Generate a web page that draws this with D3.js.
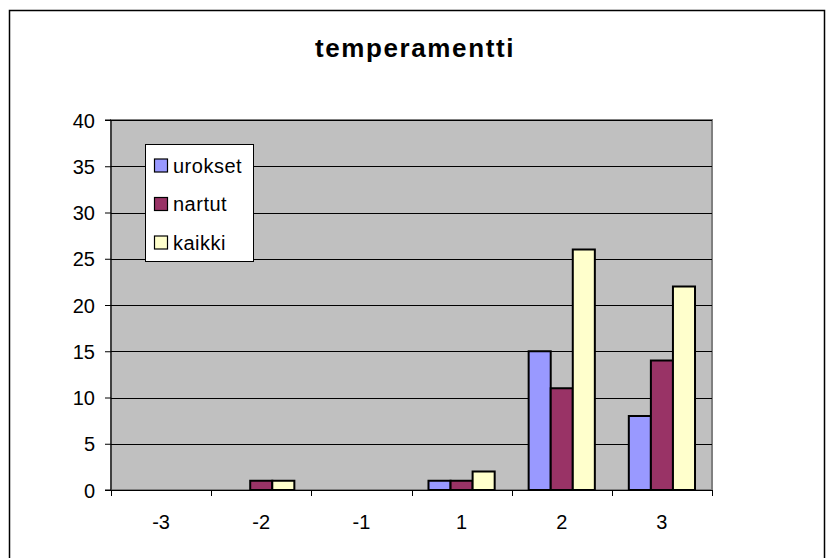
<!DOCTYPE html>
<html>
<head>
<meta charset="utf-8">
<script src="https://cdn.jsdelivr.net/npm/d3@7"></script>
<style>
  body { margin: 0; background: #fff; }
  svg { display: block; font-family: "Liberation Sans", Arial, sans-serif; }
</style>
</head>
<body>
<div id="chart"></div>
<script>
(() => {
    // data
    const categories = ['-3', '-2', '-1', '1', '2', '3'];
    const seriesNames = ['urokset', 'nartut', 'kaikki'];
    const urokset = [0, 0, 0, 1, 15, 8];
    const nartut = [0, 1, 0, 1, 11, 14];
    const kaikki = [0, 1, 0, 2, 26, 22];
    const yTicks = [0, 5, 10, 15, 20, 25, 30, 35, 40];
    const colors = ['#9999ff', '#993366', '#ffffcc'];

    const W = 834, H = 558;
    const plot = {left: 111, top: 120, right: 712, bottom: 490};

    const svg = d3.select('#chart')
        .append('svg')
        .attr('width', W)
        .attr('height', H);

    // outer chart border (bottom edge runs off the picture)
    svg.append('rect')
        .attr('x', 9.5).attr('y', 10.5)
        .attr('width', 815).attr('height', 560)
        .attr('fill', '#fff')
        .attr('stroke', '#000')
        .attr('stroke-width', 1.5);

    svg.append('text')
        .attr('x', 415).attr('y', 57)
        .attr('text-anchor', 'middle')
        .style('font-size', '26px')
        .style('font-weight', 'bold')
        .style('letter-spacing', '1.6px')
        .text('temperamentti');

    const x = d3.scaleBand()
        .domain(categories)
        .range([plot.left, plot.right]);
    const xInner = d3.scaleBand()
        .domain(seriesNames)
        .range([0, x.bandwidth()])
        .paddingOuter(0.77)
        .paddingInner(0);
    const y = d3.scaleLinear()
        .domain([0, 40])
        .range([plot.bottom, plot.top]);

    svg.append('rect')
        .attr('x', plot.left).attr('y', plot.top)
        .attr('width', plot.right - plot.left)
        .attr('height', plot.bottom - plot.top)
        .attr('fill', '#c0c0c0')
        .attr('stroke', '#808080')
        .attr('stroke-width', 2);

    // gridlines
    svg.append('g')
        .selectAll('line')
        .data(yTicks.filter(d => d > 0))
        .enter()
        .append('line')
        .attr('x1', plot.left).attr('x2', plot.right)
        .attr('y1', d => Math.round(y(d)) + 0.5)
        .attr('y2', d => Math.round(y(d)) + 0.5)
        .attr('stroke', '#000')
        .attr('stroke-width', 1);

    // bars
    const series = [urokset, nartut, kaikki];
    series.forEach((vals, si) => {
        const rows = vals.map((v, i) => ({cat: categories[i], v: v}))
            .filter(d => d.v > 0);
        svg.append('g')
            .selectAll('rect')
            .data(rows)
            .enter()
            .append('rect')
            .attr('x', d => x(d.cat) + xInner(seriesNames[si]))
            .attr('y', d => y(d.v))
            .attr('width', xInner.bandwidth())
            .attr('height', d => plot.bottom - y(d.v))
            .attr('fill', colors[si])
            .attr('stroke', '#000')
            .attr('stroke-width', 2);
    });

    // axes
    const yAxis = d3.axisLeft(y)
        .tickValues(yTicks)
        .tickSize(6)
        .tickPadding(10);
    const gy = svg.append('g')
        .attr('transform', `translate(${plot.left},0)`)
        .call(yAxis);
    gy.select('.domain').attr('stroke', '#000').attr('d', `M-6,${plot.bottom}H0V${plot.top}H-6`);
    gy.selectAll('line').attr('stroke', '#000');
    gy.selectAll('text')
        .style('font-size', '20px')
        .attr('dy', '0.36em')
        .attr('fill', '#000');
    gy.attr('font-family', null);

    const gx = svg.append('g')
        .attr('transform', `translate(0,${plot.bottom})`);
    gx.append('line')
        .attr('x1', plot.left).attr('x2', plot.right)
        .attr('y1', 0.5).attr('y2', 0.5)
        .attr('stroke', '#000');
    gx.selectAll('.tick')
        .data(d3.range(categories.length + 1))
        .enter()
        .append('line')
        .attr('x1', i => Math.round(plot.left + i * x.step()) + 0.5)
        .attr('x2', i => Math.round(plot.left + i * x.step()) + 0.5)
        .attr('y1', 0).attr('y2', 6)
        .attr('stroke', '#000');
    gx.selectAll('text')
        .data(categories)
        .enter()
        .append('text')
        .attr('x', d => x(d) + x.bandwidth() / 2)
        .attr('y', 39)
        .attr('text-anchor', 'middle')
        .style('font-size', '20px')
        .text(d => d);

    // legend
    const legend = svg.append('g');
    legend.append('rect')
        .attr('x', 145.5).attr('y', 144.5)
        .attr('width', 108).attr('height', 117)
        .attr('fill', '#fff')
        .attr('stroke', '#000');
    const rows = [165.5, 204, 242.5];
    seriesNames.forEach((name, i) => {
        legend.append('rect')
            .attr('x', 154.5).attr('y', rows[i] - 6.5)
            .attr('width', 13).attr('height', 13)
            .attr('fill', colors[i])
            .attr('stroke', '#000')
            .attr('stroke-width', 1.2);
        legend.append('text')
            .attr('x', 173).attr('y', rows[i] + 7)
            .style('font-size', '20px')
            .style('letter-spacing', '0.5px')
            .text(name);
    });
})();
</script>
</body>
</html>
